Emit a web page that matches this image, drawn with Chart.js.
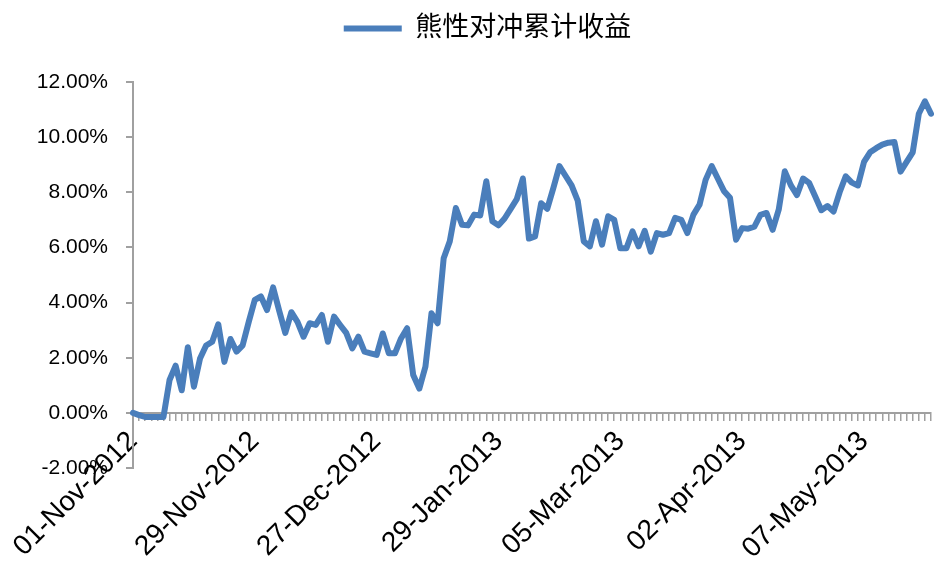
<!DOCTYPE html>
<html>
<head>
<meta charset="utf-8">
<script src="https://cdn.jsdelivr.net/npm/chart.js@4.4.1/dist/chart.umd.min.js"></script>
<style>
  html, body { margin: 0; padding: 0; background: #fff; }
  #wrap { width: 945px; height: 576px; }
</style>
</head>
<body>
<div id="wrap"><canvas id="line-chart" width="945" height="576"></canvas></div>
<script>
// trading days (A-share calendar), Nov 2012 - May 2013
const monthNames = ['Nov-2012', 'Dec-2012', 'Jan-2013', 'Feb-2013', 'Mar-2013', 'Apr-2013', 'May-2013'];
const monthDays = [
    [1,2,5,6,7,8,9,12,13,14,15,16,19,20,21,22,23,26,27,28,29,30],
    [3,4,5,6,7,10,11,12,13,14,17,18,19,20,21,24,25,26,27,28,31],
    [4,7,8,9,10,11,14,15,16,17,18,21,22,23,24,25,28,29,30,31],
    [1,4,5,6,7,8,18,19,20,21,22,25,26,27,28],
    [1,4,5,6,7,8,11,12,13,14,15,18,19,20,21,22,25,26,27,28,29],
    [1,2,3,8,9,10,11,12,15,16,17,18,19,22,23,24,25,26],
    [2,3,6,7,8,9,10,13,14,15,16,17,20,21,22]
];

// cumulative hedged return, %
const hedgeReturn = [
    0.00, -0.08, -0.15, -0.15, -0.15, -0.15, 1.19, 1.71, 0.82, 2.38,
    0.95, 1.97, 2.44, 2.58, 3.21, 1.85, 2.68, 2.22, 2.45, 3.30,
    4.10, 4.22, 3.73, 4.55, 3.70, 2.90, 3.65, 3.30, 2.76, 3.25,
    3.19, 3.55, 2.58, 3.49, 3.19, 2.90, 2.34, 2.76, 2.22, 2.16,
    2.10, 2.88, 2.16, 2.16, 2.70, 3.07, 1.37, 0.88, 1.67, 3.61,
    3.25, 5.61, 6.22, 7.43, 6.82, 6.80, 7.19, 7.16, 8.40, 6.95,
    6.80, 7.05, 7.40, 7.75, 8.50, 6.32, 6.40, 7.60, 7.40, 8.15,
    8.95, 8.60, 8.25, 7.70, 6.22, 6.04, 6.95, 6.10, 7.13, 7.00,
    5.97, 5.97, 6.58, 6.04, 6.60, 5.85, 6.52, 6.46, 6.52, 7.07,
    7.00, 6.52, 7.19, 7.55, 8.45, 8.95, 8.50, 8.05, 7.80, 6.28,
    6.70, 6.68, 6.75, 7.18, 7.25, 6.64, 7.37, 8.76, 8.25, 7.90,
    8.50, 8.34, 7.85, 7.35, 7.50, 7.30, 8.00, 8.58, 8.35, 8.25,
    9.10, 9.45, 9.60, 9.73, 9.80, 9.82, 8.75, 9.10, 9.45, 10.85,
    11.30, 10.85
];

const seriesName = '熊性对冲累计收益';
const labelEvery = 20;

let dates = [];
monthNames.forEach((m, i) => {
    monthDays[i].forEach(d => dates.push(String(d).padStart(2, '0') + '-' + m));
});

const blue = '#4a7ebb';
const axisGrey = '#a0a0a0';
const fontFamily = "'Liberation Sans', Arial, 'Noto Sans CJK SC', sans-serif";

//legend sits higher than the plot and a bit right of center
const legendGap = {
    id: 'legendGap',
    beforeInit(chart) {
        const fit = chart.legend.fit;
        chart.legend.fit = function() {
            fit.bind(chart.legend)();
            this.height += 30;
        };
    },
    afterLayout(chart) {
        chart.legend.left += 22;
        chart.legend.right += 22;
    }
};

const config = {
    type: 'line',
    data: {
        labels: dates,
        datasets: [{
            label: seriesName,
            data: hedgeReturn,
            borderColor: blue,
            backgroundColor: blue,
            borderWidth: 6,
            pointRadius: 0,
            pointStyle: 'line',
            borderJoinStyle: 'round',
            borderCapStyle: 'round',
            tension: 0,
            fill: false
        }]
    },
    options: {
        responsive: false,
        animation: false,
        devicePixelRatio: 1,
        layout: { padding: { top: 1, right: 14, bottom: 108, left: 0 } },
        plugins: {
            legend: {
                position: 'top',
                labels: {
                    usePointStyle: true,
                    pointStyleWidth: 58,
                    padding: 14,
                    color: '#000',
                    font: { family: fontFamily, size: 27 }
                }
            },
            tooltip: { enabled: false }
        },
        scales: {
            x: {
                position: { y: 0 },
                offset: false,
                afterFit: function(scale) { scale.paddingRight = 0; },
                grid: {
                    display: true,
                    drawOnChartArea: false,
                    drawTicks: true,
                    tickLength: 7,
                    color: axisGrey,
                    lineWidth: 1.5
                },
                border: { display: true, color: axisGrey, width: 2 },
                ticks: {
                    autoSkip: false,
                    maxRotation: 45,
                    minRotation: 45,
                    padding: 5,
                    color: '#000',
                    font: { family: fontFamily, size: 28 },
                    callback: function(val, idx) {
                        return idx % labelEvery === 0 ? this.getLabelForValue(val) : '';
                    }
                }
            },
            y: {
                min: -2,
                max: 12,
                grid: {
                    display: true,
                    drawOnChartArea: false,
                    drawTicks: true,
                    tickLength: 7,
                    color: axisGrey,
                    lineWidth: 2
                },
                border: { display: true, color: axisGrey, width: 2 },
                afterFit: function(scale) { scale.width = 133; },
                ticks: {
                    stepSize: 2,
                    padding: 18,
                    color: '#000',
                    font: { family: fontFamily, size: 21 },
                    callback: v => v.toFixed(2) + '%'
                }
            }
        }
    },
    plugins: [legendGap]
};

const myChart = new Chart(document.querySelector('#line-chart'), config);
</script>
</body>
</html>
